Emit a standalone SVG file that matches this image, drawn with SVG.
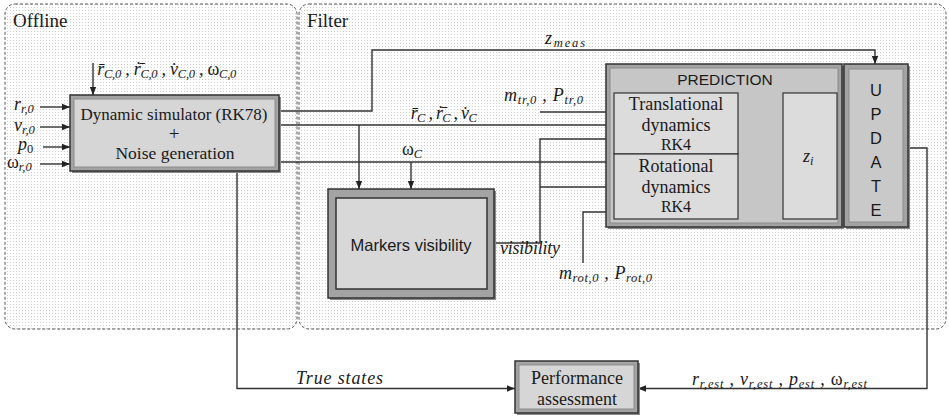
<svg xmlns="http://www.w3.org/2000/svg" width="949" height="419" viewBox="0 0 949 419">
<style>
.panel{fill:url(#dots);stroke:#555;stroke-width:1;stroke-dasharray:3 2}
.ln{fill:none;stroke:#333;stroke-width:1.4}
.arr{marker-end:url(#ah)}
.ser{fill:#1a1a1a}
.san{fill:#1a1a1a}
.m{font-style:italic;font-size:18px;fill:#1a1a1a}
.sb{font-size:12.5px}
.up{font-style:normal}
.outer{fill:#a3a3a3;stroke:#333;stroke-width:1.5}
.inner{fill:#d6d6d6;stroke:#8c8c8c;stroke-width:1}
.shadow{fill:#8a8a8a}
.sub{fill:#dcdcdc;stroke:#333;stroke-width:1.2}
</style>
<defs>
<pattern id="dots" width="3" height="3" patternUnits="userSpaceOnUse"><rect width="3" height="3" fill="#fff"/><rect x="1" y="1" width="1" height="1" fill="#cdcdcd"/></pattern>
<marker id="ah" viewBox="0 0 8 8" refX="8" refY="4" markerWidth="8" markerHeight="8" markerUnits="userSpaceOnUse" orient="auto"><path d="M0,0.8 L8,4 L0,7.2 z" fill="#222"/></marker>
</defs>
<rect width="949" height="419" fill="#fff"/>

<g id="offline-panel">
<rect class="panel" x="5" y="4" width="292" height="325" rx="10"/>
<text class="ser" font-family="'Liberation Serif', serif" x="13" y="27" font-size="19">Offline</text>
</g>
<g id="filter-panel">
<rect class="panel" x="299" y="4" width="647" height="325" rx="10"/>
<text class="ser" font-family="'Liberation Serif', serif" x="307" y="27" font-size="19">Filter</text>
</g>

<g id="connectors">
<path class="ln arr" d="M93,63 V95"/>
<path class="ln arr" d="M40,107 H70"/>
<path class="ln arr" d="M40,127 H70"/>
<path class="ln arr" d="M43,147 H70"/>
<path class="ln arr" d="M40,164 H70"/>
<path class="ln arr" d="M279,111 H372 V50 H875 V64"/>
<path class="ln arr" d="M279,125 H614"/>
<path class="ln arr" d="M359,125 V189"/>
<path class="ln arr" d="M279,162 H614"/>
<path class="ln arr" d="M411,162 V189"/>
<path class="ln arr" d="M540,112 H614"/>
<path class="ln arr" d="M494,243 H540 V139 H614"/>
<path class="ln arr" d="M540,187 H614"/>
<path class="ln arr" d="M583,263 V212 H614"/>
<path class="ln arr" d="M738,123 H783"/>
<path class="ln arr" d="M738,187 H783"/>
<path class="ln arr" d="M908,148 H927 V388.5 H638"/>
<path class="ln arr" d="M237,171 V388.5 H515"/>
</g>

<g id="labels" font-family="'Liberation Serif', serif">
<text class="m" x="97" y="75" textLength="139">r̄<tspan class="sb" dy="3">C,0</tspan><tspan dy="-3"> , ṙ̄</tspan><tspan class="sb" dy="3">C,0</tspan><tspan dy="-3"> , v̇</tspan><tspan class="sb" dy="3">C,0</tspan><tspan dy="-3"> , </tspan><tspan class="up">ω</tspan><tspan class="sb" dy="3">C,0</tspan></text>
<text class="m" x="14" y="110">r<tspan class="sb" dy="3">r,0</tspan></text>
<text class="m" x="14" y="131">v<tspan class="sb" dy="3">r,0</tspan></text>
<text class="m" x="18" y="150">p<tspan class="sb up" dy="3">0</tspan></text>
<text class="m" x="7" y="168"><tspan class="up">ω</tspan><tspan class="sb" dy="3">r,0</tspan></text>
<text class="m" x="545" y="44" textLength="40">z<tspan class="sb" dy="3">meas</tspan></text>
<text class="m" x="410" y="119" textLength="66">r̄<tspan class="sb" dy="3">C</tspan><tspan dy="-3"> , ṙ̄</tspan><tspan class="sb" dy="3">C</tspan><tspan dy="-3"> , v̇</tspan><tspan class="sb" dy="3">C</tspan></text>
<text class="m" x="402" y="155"><tspan class="up">ω</tspan><tspan class="sb" dy="3">C</tspan></text>
<text class="m" x="504" y="101" textLength="79">m<tspan class="sb" dy="3">tr,0</tspan><tspan dy="-3"> , P</tspan><tspan class="sb" dy="3">tr,0</tspan></text>
<text class="m" x="500" y="254" font-size="16" textLength="60">visibility</text>
<text class="m" x="559" y="279" textLength="93">m<tspan class="sb" dy="3">rot,0</tspan><tspan dy="-3"> , P</tspan><tspan class="sb" dy="3">rot,0</tspan></text>
<text class="m" x="751" y="117">r<tspan class="sb" dy="3">r</tspan></text>
<text class="m" x="753" y="199">p</text>
<text class="m" x="296" y="384" textLength="87">True states</text>
<text class="m" x="692" y="385" textLength="175">r<tspan class="sb" dy="3">r,est</tspan><tspan dy="-3"> , v</tspan><tspan class="sb" dy="3">r,est</tspan><tspan dy="-3"> , p</tspan><tspan class="sb" dy="3">est</tspan><tspan dy="-3"> , </tspan><tspan class="up">ω</tspan><tspan class="sb" dy="3">r,est</tspan></text>
</g>

<g id="simulator">
<rect class="shadow" x="72" y="97" width="209" height="76"/>
<rect class="outer" x="70" y="95" width="209" height="76"/>
<rect class="inner" x="74" y="99" width="201" height="68"/>
<g font-family="'Liberation Serif', serif" class="ser" text-anchor="middle">
<text x="174" y="120" font-size="17">Dynamic simulator (RK78)</text>
<text x="174" y="140" font-size="19">+</text>
<text x="175" y="159" font-size="17.5">Noise generation</text>
</g>
</g>

<g id="markers">
<rect class="shadow" x="330" y="191" width="166" height="109"/>
<rect class="outer" x="328" y="189" width="166" height="109"/>
<rect x="336" y="198" width="151" height="91" fill="#d8d8d8" stroke="#333" stroke-width="1.5"/>
<text class="san" font-family="'Liberation Sans', sans-serif" x="411" y="251" font-size="16.5" text-anchor="middle">Markers visibility</text>
</g>

<g id="prediction">
<rect class="shadow" x="608" y="66" width="236" height="163"/>
<rect class="outer" x="606" y="64" width="236" height="163"/>
<rect x="610" y="68" width="228" height="155" fill="#c6c6c6" stroke="#8c8c8c"/>
<text class="san" font-family="'Liberation Sans', sans-serif" x="725" y="85" font-size="15.5" text-anchor="middle">PREDICTION</text>
</g>

<g id="translational">
<rect class="sub" x="614" y="93" width="124" height="61"/>
<g font-family="'Liberation Serif', serif" class="ser" text-anchor="middle">
<text x="676" y="110" font-size="18">Translational</text>
<text x="676" y="131" font-size="18">dynamics</text>
<text x="676" y="150" font-size="16">RK4</text>
</g>
</g>

<g id="rotational">
<rect class="sub" x="614" y="154" width="124" height="65"/>
<g font-family="'Liberation Serif', serif" class="ser" text-anchor="middle">
<text x="676" y="172" font-size="18">Rotational</text>
<text x="676" y="193" font-size="18">dynamics</text>
<text x="676" y="212" font-size="16">RK4</text>
</g>
</g>

<g id="zi">
<rect class="sub" x="783" y="93" width="54" height="126"/>
<text class="m" font-family="'Liberation Serif', serif" x="803" y="162">z<tspan class="sb" dy="3">i</tspan></text>
</g>

<g id="update">
<rect class="shadow" x="846" y="66" width="64" height="163"/>
<rect class="outer" x="844" y="64" width="64" height="163"/>
<rect x="849" y="69" width="54" height="153" fill="#c9c9c9" stroke="#8c8c8c"/>
<g class="san" font-family="'Liberation Sans', sans-serif" font-size="16.5" text-anchor="middle">
<text x="876" y="96">U</text>
<text x="876" y="120">P</text>
<text x="876" y="144">D</text>
<text x="876" y="168">A</text>
<text x="876" y="192">T</text>
<text x="876" y="216">E</text>
</g>
</g>

<g id="performance">
<rect class="shadow" x="517" y="363" width="123" height="52"/>
<rect class="outer" x="515" y="361" width="123" height="52"/>
<rect class="inner" x="519" y="365" width="115" height="44"/>
<g font-family="'Liberation Serif', serif" class="ser" text-anchor="middle">
<text x="577" y="384" font-size="18">Performance</text>
<text x="577" y="405" font-size="18">assessment</text>
</g>
</g>
</svg>
